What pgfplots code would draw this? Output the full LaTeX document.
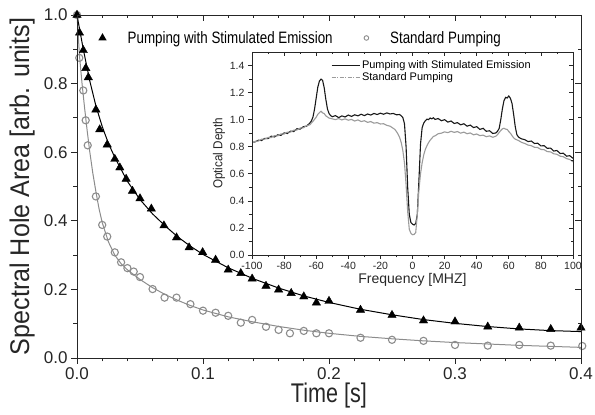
\documentclass[border=0pt]{standalone}
\usepackage{pgfplots}
\pgfplotsset{compat=1.18}
\usepackage{graphicx}
\usepackage{fontspec}
\setmainfont{Liberation Sans}
\definecolor{cgray}{RGB}{140,140,140}
\definecolor{tgray}{RGB}{155,155,155}
\definecolor{tblack}{RGB}{25,25,25}
\begin{document}
\begin{tikzpicture}
\useasboundingbox (-77pt,-57pt) rectangle (518pt,358pt);
% ---------------- main axis ----------------
\begin{axis}[
  name=main, at={(0,0)}, anchor=south west,
  scale only axis, width=504pt, height=343pt,
  xmin=0, xmax=0.4, ymin=0, ymax=1.0,
  xtick={0,0.1,0.2,0.3,0.4}, ytick={0,0.2,0.4,0.6,0.8,1.0},
  minor x tick num=4, minor y tick num=1,
  xtick pos=bottom, ytick pos=left,
  tick align=outside,
  major tick length=6pt, minor tick length=3.5pt,
  axis line style={line width=0.9pt, black!85},
  every tick/.style={line width=0.8pt, black!85},
  /pgf/number format/assume math mode=true,
  xticklabel style={/pgf/number format/.cd, fixed, fixed zerofill, precision=1},
  yticklabel style={/pgf/number format/.cd, fixed, fixed zerofill, precision=1},
  ticklabel style={font=\fontsize{17}{17}\selectfont, text=black!85},
  xlabel={\scalebox{0.8}[1]{Time [s]}},
  ylabel={\scalebox{0.93}[1]{Spectral Hole Area [arb. units]}},
  label style={font=\fontsize{27}{27}\selectfont, text=black!85},
  xlabel style={at={(axis description cs:0.5,0)}, anchor=north, yshift=-24pt, inner sep=1pt},
  ylabel style={at={(axis description cs:-0.109,0.5)}, anchor=center},
  legend style={at={(rel axis cs:0.036,0.933)}, anchor=west, draw=none, fill=none,
    legend columns=2, font=\fontsize{16.5}{16.5}\selectfont,
    /tikz/every even column/.append style={column sep=29pt}},
  legend cell align=left,
  clip=false,
]
\addlegendimage{legend image code/.code={
  \fill[black, draw=none] (0pt,4.8pt) -- (-4.157pt,-2.4pt) -- (4.157pt,-2.4pt) -- cycle;}}
\addlegendentry{\hspace{19pt}\scalebox{0.81}[1]{Pumping with Stimulated Emission}}
\addlegendimage{legend image code/.code={
  \draw[cgray, line width=0.9pt, fill=none] (0pt,0pt) circle (2.3pt);}}
\addlegendentry{\hspace{19pt}\scalebox{0.81}[1]{Standard Pumping}}
% gray fit
\addplot[cgray, line width=1pt, forget plot] coordinates {
(0,1.0)(0.002,0.88)(0.004,0.80)(0.006,0.73)(0.008,0.665)(0.010,0.605)(0.0125,0.54)
(0.015,0.485)(0.0175,0.435)(0.02,0.395)(0.025,0.338)(0.03,0.300)(0.035,0.275)
(0.04,0.257)(0.05,0.229)(0.06,0.205)(0.07,0.185)(0.08,0.168)(0.09,0.153)(0.10,0.140)
(0.12,0.120)(0.14,0.105)(0.16,0.092)(0.18,0.081)(0.20,0.072)(0.225,0.063)(0.25,0.056)
(0.275,0.050)(0.30,0.045)(0.35,0.037)(0.40,0.031)};
% gray circles
\addplot[only marks, mark=o, mark size=3.6pt, cgray, line width=1.1pt, forget plot] coordinates {
(0,1.0)(0.0018,0.875)(0.005,0.78)(0.0069,0.693)(0.0085,0.62)(0.015,0.471)(0.020,0.388)
(0.024,0.354)(0.030,0.308)(0.035,0.279)(0.040,0.262)(0.045,0.252)(0.050,0.236)
(0.060,0.201)(0.0695,0.176)(0.079,0.176)(0.090,0.157)(0.100,0.138)(0.110,0.132)
(0.120,0.123)(0.130,0.103)(0.139,0.111)(0.150,0.091)(0.160,0.082)(0.169,0.072)
(0.180,0.079)(0.190,0.072)(0.200,0.072)(0.225,0.059)(0.250,0.053)(0.275,0.050)
(0.300,0.038)(0.326,0.036)(0.351,0.038)(0.376,0.036)(0.401,0.035)};
% black fit
\addplot[black, line width=1pt, forget plot] coordinates {
(0,1.0)(0.005,0.90)(0.01,0.81)(0.015,0.735)(0.02,0.675)(0.025,0.625)(0.03,0.585)
(0.04,0.515)(0.05,0.462)(0.06,0.42)(0.07,0.385)(0.08,0.353)(0.09,0.326)(0.10,0.302)
(0.12,0.263)(0.14,0.231)(0.16,0.204)(0.18,0.181)(0.20,0.162)(0.225,0.142)(0.25,0.126)
(0.275,0.112)(0.30,0.101)(0.325,0.092)(0.35,0.085)(0.375,0.080)(0.40,0.077)};
% black triangles
\addplot[only marks, mark=triangle*, mark size=4.8pt, black, forget plot] coordinates {
(0,1.0)(0.002,0.948)(0.005,0.897)(0.007,0.845)(0.009,0.818)(0.015,0.724)(0.018,0.666)
(0.024,0.622)(0.030,0.580)(0.034,0.555)(0.039,0.522)(0.044,0.487)(0.050,0.465)
(0.059,0.435)(0.069,0.386)(0.079,0.351)(0.089,0.322)(0.0997,0.308)(0.110,0.286)
(0.120,0.257)(0.130,0.247)(0.139,0.231)(0.150,0.210)(0.160,0.199)(0.170,0.189)
(0.180,0.179)(0.190,0.161)(0.200,0.166)(0.225,0.140)(0.250,0.125)(0.275,0.109)
(0.300,0.106)(0.326,0.091)(0.351,0.088)(0.376,0.084)(0.400,0.088)};
\end{axis}
% mirrored inward ticks top/right
\begin{axis}[
  at={(0,0)}, anchor=south west,
  scale only axis, width=504pt, height=343pt,
  xmin=0, xmax=0.4, ymin=0, ymax=1.0,
  xtick={0,0.1,0.2,0.3,0.4}, ytick={0,0.2,0.4,0.6,0.8,1.0},
  minor x tick num=4, minor y tick num=1,
  xtick pos=top, ytick pos=right, tick align=inside,
  major tick length=6pt, minor tick length=3.5pt,
  axis line style={line width=0.9pt, black!85},
  every tick/.style={line width=0.8pt, black!85},
  xticklabels={}, yticklabels={},
]
\end{axis}
% ---------------- inset ----------------
\begin{axis}[
  name=inset, at={(175pt,103pt)}, anchor=south west,
  scale only axis, width=321pt, height=203pt,
  xmin=-100, xmax=100, ymin=0, ymax=1.5,
  xtick={-100,-80,...,100}, ytick={0,0.2,...,1.4},
  minor x tick num=1, minor y tick num=1,
  xtick pos=bottom, ytick pos=left, tick align=outside,
  major tick length=4pt, minor tick length=2.5pt,
  axis line style={line width=0.8pt, black!85},
  every tick/.style={line width=0.7pt, black!85},
  /pgf/number format/assume math mode=true,
  yticklabel style={/pgf/number format/.cd, fixed, fixed zerofill, precision=1},
  ticklabel style={font=\fontsize{10.5}{10.5}\selectfont, text=black!85},
  xlabel={Frequency [MHZ]}, ylabel={\scalebox{0.9}[1]{Optical Depth}},
  xlabel style={font=\fontsize{14}{14}\selectfont, text=black!85, yshift=3pt},
  ylabel style={font=\fontsize{13}{13}\selectfont, text=black!85, yshift=-2pt},
  legend style={at={(rel axis cs:0.243,0.975)}, anchor=north west, draw=none, fill=none,
    font=\fontsize{11}{11}\selectfont, row sep=-1pt, inner sep=1pt},
  legend cell align=left,
  legend image code/.code={\draw[#1] (0pt,0pt) -- (28pt,0pt);},
]
\addlegendimage{tblack, line width=0.8pt}
\addlegendentry{Pumping with Stimulated Emission}
\addlegendimage{tgray, line width=0.8pt, dash pattern=on 4pt off 1.5pt on 1pt off 1.5pt}
\addlegendentry{Standard Pumping}
\addplot[tblack, line width=1.1pt, forget plot] coordinates {
(-100,.832)(-98,.836)(-96,.848)(-94,.846)(-92,.862)(-90,.860)(-88,.878)(-86,.872)
(-84,.888)(-82,.884)(-80,.902)(-78,.898)(-76,.915)(-74,.912)(-72,.933)(-70,.930)
(-68,.948)(-66,.952)(-64,.975)(-63,.990)(-62,1.02)(-61,1.08)(-60,1.16)(-59,1.24)
(-58,1.285)(-57,1.30)(-56,1.29)(-55,1.235)(-54,1.15)(-53,1.08)(-52,1.045)(-51,1.030)
(-50,1.022)(-48,1.030)(-46,1.015)(-44,1.028)(-42,1.020)(-40,1.034)(-38,1.024)
(-36,1.036)(-34,1.028)(-32,1.040)(-30,1.030)(-28,1.042)(-26,1.034)(-24,1.046)
(-22,1.038)(-20,1.048)(-18,1.040)(-16,1.050)(-14,1.042)(-12,1.046)(-10,1.036)
(-8,1.038)(-7,1.028)(-6,1.015)(-5,0.97)(-4,0.80)(-3,0.50)(-2,0.30)(-1,0.24)
(0,0.228)(1,0.222)(2,0.232)(3,0.30)(4,0.55)(5,0.82)(6,0.94)(7,0.975)(8,0.992)
(9,1.004)(10,1.000)(11,1.012)(12,1.006)(13,1.014)(14,1.002)(16,1.008)(18,0.992)
(20,1.000)(22,0.982)(24,0.990)(26,0.972)(28,0.978)(30,0.962)(32,0.970)(34,0.952)
(36,0.960)(38,0.942)(40,0.948)(42,0.928)(44,0.936)(46,0.914)(48,0.918)(50,0.898)
(52,0.902)(53,0.915)(54,0.935)(55,1.00)(56,1.08)(57,1.14)(58,1.165)(59,1.160)
(60,1.175)(61,1.158)(62,1.12)(63,1.04)(64,0.95)(65,0.89)(66,0.872)(67,0.864)
(68,0.858)(70,0.852)(72,0.838)(74,0.842)(76,0.824)(78,0.826)(80,0.806)(82,0.808)
(84,0.788)(86,0.790)(88,0.768)(90,0.772)(92,0.750)(94,0.752)(96,0.730)(98,0.734)
(100,0.714)};
\addplot[tgray, line width=1.1pt, forget plot] coordinates {
(-100,.828)(-98,.840)(-96,.842)(-94,.856)(-92,.856)(-90,.868)(-88,.868)(-86,.882)
(-84,.880)(-82,.894)(-80,.894)(-78,.908)(-76,.908)(-74,.922)(-72,.924)(-70,.938)
(-68,.940)(-66,.956)(-64,.962)(-62,.988)(-60,1.018)(-59,1.040)(-58,1.052)(-57,1.062)
(-56,1.050)(-55,1.045)(-54,1.028)(-52,1.012)(-50,1.006)(-48,1.000)(-46,1.008)
(-44,0.998)(-42,1.006)(-40,0.996)(-38,1.002)(-36,0.990)(-34,0.998)(-32,0.986)
(-30,0.992)(-28,0.980)(-26,0.986)(-24,0.974)(-22,0.978)(-20,0.968)(-18,0.970)
(-16,0.958)(-14,0.952)(-12,0.936)(-11,0.928)(-10,0.912)(-9,0.893)(-8,0.868)
(-7,0.830)(-6,0.770)(-5,0.680)(-4,0.520)(-3,0.320)(-2,0.190)(-1,0.160)(0,0.150)
(1,0.152)(2,0.165)(3,0.300)(4,0.480)(5,0.600)(6,0.680)(7,0.740)(8,0.780)(9,0.808)
(10,0.830)(11,0.848)(12,0.862)(13,0.876)(14,0.880)(16,0.896)(18,0.900)(20,0.910)
(22,0.904)(24,0.914)(26,0.906)(28,0.912)(30,0.900)(32,0.908)(34,0.896)(36,0.902)
(38,0.888)(40,0.894)(42,0.882)(44,0.886)(46,0.874)(48,0.880)(50,0.870)(52,0.878)
(53,0.890)(54,0.905)(55,0.920)(56,0.932)(57,0.936)(58,0.930)(59,0.928)(60,0.912)
(61,0.900)(62,0.882)(63,0.866)(64,0.856)(66,0.846)(68,0.832)(70,0.824)(72,0.812)
(74,0.808)(76,0.796)(78,0.794)(80,0.780)(82,0.778)(84,0.764)(86,0.762)(88,0.748)
(90,0.744)(92,0.730)(94,0.726)(96,0.712)(98,0.706)(100,0.688)};
\end{axis}
\begin{axis}[
  at={(175pt,103pt)}, anchor=south west,
  scale only axis, width=321pt, height=203pt,
  xmin=-100, xmax=100, ymin=0, ymax=1.5,
  xtick={-100,-80,...,100}, ytick={0,0.2,...,1.4},
  minor x tick num=1, minor y tick num=1,
  xtick pos=top, ytick pos=right, tick align=inside,
  major tick length=4pt, minor tick length=2.5pt,
  axis line style={line width=0.8pt, black!85},
  every tick/.style={line width=0.7pt, black!85},
  xticklabels={}, yticklabels={},
]
\end{axis}
\end{tikzpicture}
\end{document}
